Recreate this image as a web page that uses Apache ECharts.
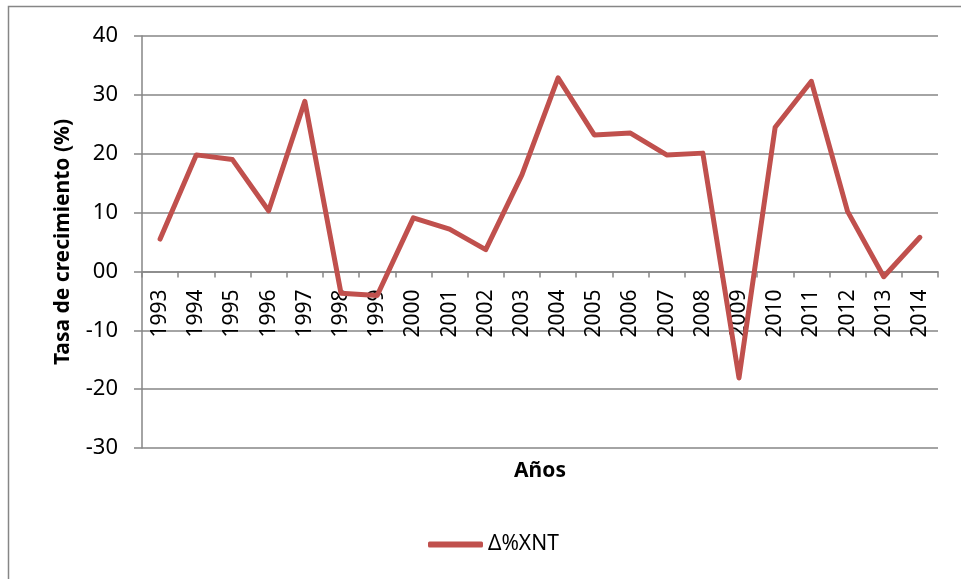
<!DOCTYPE html>
<html>
<head>
<meta charset="utf-8">
<script src="https://cdn.jsdelivr.net/npm/echarts@6/dist/echarts.min.js"></script>
<style>
  html, body { margin: 0; padding: 0; background: #fff; }
  #chart { width: 961px; height: 579px; }
</style>
</head>
<body>
<div id="chart"></div>
<script>
// datos
var years = ['1993', '1994', '1995', '1996', '1997', '1998', '1999', '2000', '2001', '2002', '2003',
  '2004', '2005', '2006', '2007', '2008', '2009', '2010', '2011', '2012', '2013', '2014'];
var xnt = [5.5, 19.8, 19.0, 10.3, 28.9, -3.7, -4.1, 9.1, 7.2, 3.7, 16.4,
  32.9, 23.2, 23.5, 19.8, 20.1, -18.1, 24.5, 32.3, 10.2, -0.9, 5.8];
var yTicks = [-30, -20, -10, 0, 10, 20, 30, 40];

var font = 'Noto Sans';
var gris = '#868686';

var W = 961, H = 579;
var g = { left: 142, right: 23, top: 36, bottom: 131 };
var yMin = yTicks[0], yMax = yTicks[yTicks.length - 1];
// subir el eje x hasta la linea del cero
var plotH = H - g.top - g.bottom;
var xOffset = -plotH * (0 - yMin) / (yMax - yMin);

var myChart = echarts.init(document.getElementById('chart'));
myChart.setOption({
  animation: false,
  textStyle: { fontFamily: font },
  graphic: [{
    type: 'rect',
    shape: { x: 8.5, y: 6.5, width: 1000, height: 1000 },
    style: { fill: 'none', stroke: gris, lineWidth: 1.5 }
  }],
  grid: { left: g.left, right: g.right, top: g.top, bottom: g.bottom, containLabel: false, outerBoundsMode: 'none' },
  legend: {
    data: ['Δ%XNT'],
    left: 423,
    top: 529,
    itemWidth: 55,
    itemHeight: 6,
    itemGap: 6,
    icon: 'roundRect',
    textStyle: { fontSize: 21, color: '#000', fontFamily: font }
  },
  xAxis: {
    type: 'category',
    data: years,
    boundaryGap: true,
    position: 'bottom',
    offset: xOffset,
    name: 'Años',
    nameLocation: 'middle',
    nameGap: 189,
    nameMoveOverlap: false,
    nameTextStyle: { fontSize: 21, fontWeight: 'bold', color: '#000' },
    axisLine: { onZero: false, lineStyle: { color: gris, width: 1.5 } },
    axisTick: { show: true, interval: 0, length: 6, lineStyle: { color: gris, width: 1.5 } },
    axisLabel: { interval: 0, rotate: 90, margin: 18, fontSize: 21, color: '#000' }
  },
  yAxis: {
    type: 'value',
    min: yMin,
    max: yMax,
    interval: 10,
    name: 'Tasa de crecimiento (%)',
    nameLocation: 'middle',
    nameGap: 68,
    nameMoveOverlap: false,
    nameTextStyle: { fontSize: 21, fontWeight: 'bold', color: '#000' },
    axisLine: { show: true, lineStyle: { color: gris, width: 1.5 } },
    axisTick: { show: true, length: 8, lineStyle: { color: gris, width: 1.5 } },
    axisLabel: {
      margin: 24, fontSize: 22, color: '#000',
      formatter: function (v) { return v === 0 ? '00' : String(v); }
    },
    splitLine: { lineStyle: { color: gris, width: 1.5 } }
  },
  series: [{
    name: 'Δ%XNT',
    type: 'line',
    data: xnt,
    symbol: 'none',
    z: 10,
    color: '#C0504D',
    lineStyle: { width: 5, color: '#C0504D', cap: 'round', join: 'round' }
  }]
});
</script>
</body>
</html>
